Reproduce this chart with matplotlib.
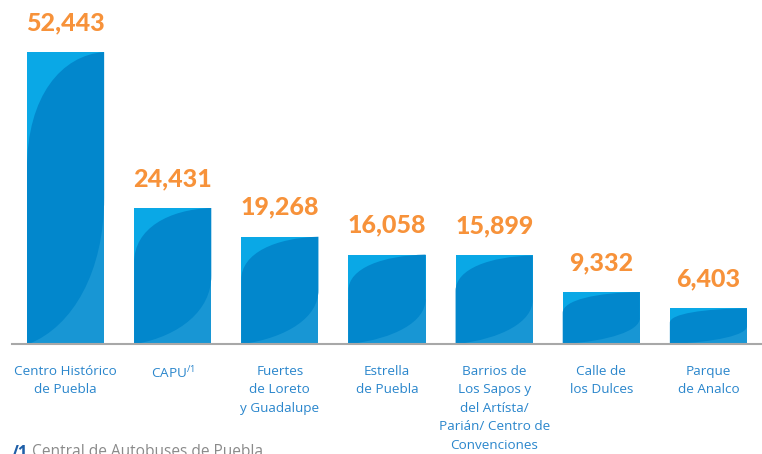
import numpy as np
import matplotlib
matplotlib.use("Agg")
import matplotlib.pyplot as plt
from matplotlib.path import Path
import matplotlib.patches as mpatches

plt.rcParams['font.family'] = ['Open Sans', 'DejaVu Sans']

# Data
categories = [
    "Centro Histórico\nde Puebla",
    r"CAPU$^{\mathregular{/1}}$",
    "Fuertes\nde Loreto\ny Guadalupe",
    "Estrella\nde Puebla",
    "Barrios de\nLos Sapos y\ndel Artísta/\nParián/ Centro de\nConvenciones",
    "Calle de\nlos Dulces",
    "Parque\nde Analco",
]
visitors = [52443, 24431, 19268, 16058, 15899, 9332, 6403]
value_labels = ["52,443", "24,431", "19,268", "16,058", "15,899", "9,332", "6,403"]
footnote_mark = "/1"
footnote_text = "Central de Autobuses de Puebla"

LIGHT = '#0aa8e6'
MID = '#1896d4'
DARK = '#0287cc'
ORANGE = '#f7923a'
LABEL_BLUE = '#2a86cc'

fig = plt.figure(figsize=(7.62, 4.54), dpi=100)
ax = fig.add_axes([12 / 762, 110 / 454, 750 / 762, 334 / 454])

x = np.arange(len(categories))
bars = ax.bar(x, visitors, width=0.72, color=LIGHT, linewidth=0, zorder=2)

# darker lens-shaped sheen inside each bar
for b in bars:
    x0, w, h = b.get_x(), b.get_width(), b.get_height()
    # lower-right mid tone
    low = mpatches.Rectangle((x0, 0), w, h * 0.5, facecolor=MID, edgecolor='none', zorder=2.5)
    ax.add_patch(low)
    verts = [
        (x0 + w, h),
        (x0 + 0.45 * w, h * 0.99), (x0, h * 0.85), (x0, h * 0.6),
        (x0, 0),
        (x0 + 0.02 * w, 0),
        (x0 + 0.6 * w, h * 0.06), (x0 + w, h * 0.25), (x0 + w, h * 0.5),
        (x0 + w, h),
        (x0 + w, h),
    ]
    codes = [Path.MOVETO,
             Path.CURVE4, Path.CURVE4, Path.CURVE4,
             Path.LINETO, Path.LINETO,
             Path.CURVE4, Path.CURVE4, Path.CURVE4,
             Path.LINETO, Path.CLOSEPOLY]
    sheen = mpatches.PathPatch(Path(verts, codes), facecolor=DARK, edgecolor='none', zorder=3)
    ax.add_patch(sheen)

for xi, v, lab in zip(x, visitors, value_labels):
    ax.annotate(lab, (xi, v), xytext=(0, 13), textcoords='offset points',
                ha='center', va='bottom', fontsize=18, fontweight=900,
                color=ORANGE, family=['Lato', 'DejaVu Sans'])

ax.set_xlim(-0.5, 6.5)
ax.set_ylim(0, 60000)
ax.set_xticks(x)
ax.set_xticklabels(categories, fontsize=9.7, color=LABEL_BLUE, linespacing=1.55, va='top')
ax.tick_params(axis='x', length=0, pad=15)
ax.set_yticks([])
for s in ['top', 'right', 'left']:
    ax.spines[s].set_visible(False)
ax.spines['bottom'].set_color('#a8a8a8')
ax.spines['bottom'].set_linewidth(1.5)
ax.spines['bottom'].set_zorder(4)

fig.text(12 / 762, 1 - 444 / 454, footnote_mark, fontsize=12, fontweight='bold',
         color='#1f5fa8', va='top', ha='left')
fig.text(32 / 762, 1 - 444 / 454, footnote_text, fontsize=11.2, color='#8a8a8a',
         va='top', ha='left')

fig.savefig("out.png", dpi=100)
